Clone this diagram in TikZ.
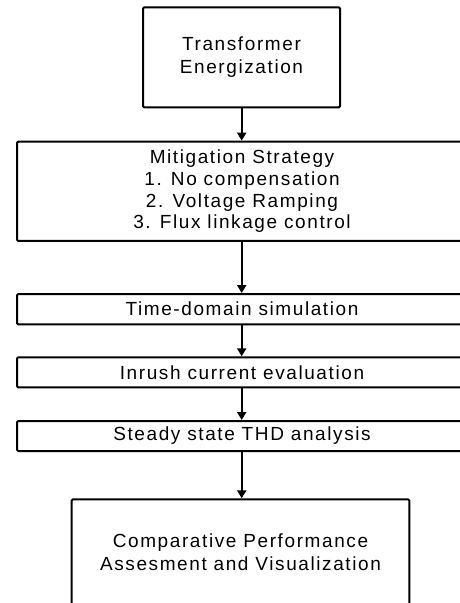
\documentclass[tikz,border=0pt]{standalone}
\usepackage{fontspec}
\setmainfont{Liberation Sans}[LetterSpace=8.4]
\usetikzlibrary{arrows.meta}

\tikzset{
  stagebox/.style={draw=black, line width=2pt, rounded corners=1.2pt,
    fill=white, inner sep=0pt, align=center,
    font=\fontsize{19}{22.5}\selectfont},
  flowarrow/.style={draw=black, line width=2pt,
    -{Triangle[length=8pt,width=9pt]}, shorten >=0pt}
}

\begin{document}
\begin{tikzpicture}[x=1pt, y=-1pt]
  \useasboundingbox (0,0) rectangle (459,603);

  \node[stagebox, minimum width=197pt, minimum height=100pt]
    (energize) at (241.5,57.3) {Transformer\\Energization};
  \node[stagebox, minimum width=450pt, minimum height=99.3pt, font=\fontsize{19}{21.7}\selectfont]
    (strategy) at (242,191.3)
    {Mitigation Strategy\\1. No compensation\\2. Voltage Ramping\\3. Flux linkage control};
  \node[stagebox, minimum width=450pt, minimum height=30.3pt]
    (timesim) at (242,309.2) {Time-domain simulation};
  \node[stagebox, minimum width=450pt, minimum height=30pt]
    (inrush) at (242,372.3) {Inrush current evaluation};
  \node[stagebox, minimum width=450pt, minimum height=30pt]
    (thd) at (242,436) {Steady state THD analysis};
  \node[stagebox, minimum width=337.6pt, minimum height=106pt]
    (assess) at (240.5,552.3) {Comparative Performance\\Assesment and Visualization};

  \draw[flowarrow] (energize.south -| 241.7,0) -- (strategy.north -| 241.7,0);
  \draw[flowarrow] (strategy.south -| 241.7,0) -- (timesim.north -| 241.7,0);
  \draw[flowarrow] (timesim.south -| 241.7,0) -- (inrush.north -| 241.7,0);
  \draw[flowarrow] (inrush.south -| 241.7,0) -- (thd.north -| 241.7,0);
  \draw[flowarrow] (thd.south -| 241.7,0) -- (assess.north -| 241.7,0);
\end{tikzpicture}
\end{document}
